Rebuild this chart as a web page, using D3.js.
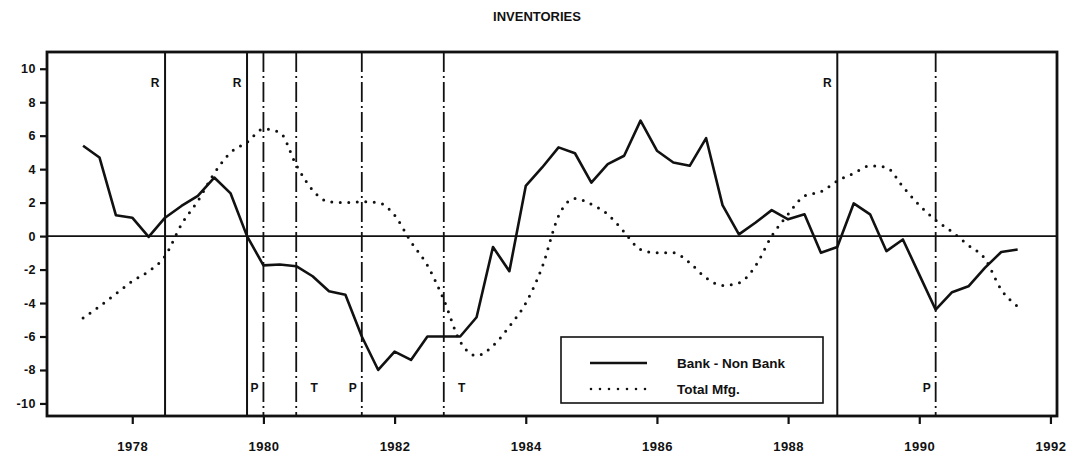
<!DOCTYPE html>
<html>
<head>
<meta charset="utf-8">
<script src="https://cdn.jsdelivr.net/npm/d3@7"></script>
<style>
  body { margin: 0; background: #fff; }
  svg text { font-family: "Liberation Sans", Arial, Helvetica, sans-serif; font-weight: bold; fill: #111; }
</style>
</head>
<body>
<svg id="chart"></svg>
<script>
// quarterly observations, 1977Q2 .. 1991Q3
const quarters = [
  1977.25, 1977.5, 1977.75,
  1978.0, 1978.25, 1978.5, 1978.75,
  1979.0, 1979.25, 1979.5, 1979.75,
  1980.0, 1980.25, 1980.5, 1980.75,
  1981.0, 1981.25, 1981.5, 1981.75,
  1982.0, 1982.25, 1982.5, 1982.75,
  1983.0, 1983.25, 1983.5, 1983.75,
  1984.0, 1984.25, 1984.5, 1984.75,
  1985.0, 1985.25, 1985.5, 1985.75,
  1986.0, 1986.25, 1986.5, 1986.75,
  1987.0, 1987.25, 1987.5, 1987.75,
  1988.0, 1988.25, 1988.5, 1988.75,
  1989.0, 1989.25, 1989.5, 1989.75,
  1990.0, 1990.25, 1990.5, 1990.75,
  1991.0, 1991.25, 1991.5
];

const bankNonBank = [
  5.4, 4.7, 1.25,
  1.1, -0.05, 1.1, 1.8,
  2.4, 3.5, 2.55, 0.0,
  -1.75, -1.7, -1.8, -2.4,
  -3.3, -3.5, -6.0, -8.0,
  -6.9, -7.4, -6.0, -6.0,
  -6.0, -4.85, -0.65, -2.1,
  3.0, 4.1, 5.3, 4.95,
  3.2, 4.3, 4.8, 6.9,
  5.1, 4.4, 4.2, 5.85,
  1.85, 0.1, 0.8, 1.55,
  1.0, 1.3, -1.0, -0.65,
  1.95, 1.3, -0.9, -0.2,
  -2.3, -4.4, -3.35, -3.0,
  -1.9, -0.95, -0.8
];

const totalMfg = [
  -4.9, -4.2, -3.45,
  -2.7, -2.1, -1.2, 0.7,
  2.1, 3.75, 5.0, 5.6,
  6.4, 6.2, 4.25, 2.75,
  2.05, 2.0, 2.05, 2.0,
  1.25, -0.35, -1.75, -3.8,
  -6.3, -7.15, -6.55, -5.4,
  -4.0, -1.85, 1.2, 2.25,
  1.9, 1.3, 0.25, -0.8,
  -1.0, -1.0, -1.6, -2.5,
  -2.95, -2.8, -1.8, 0.0,
  1.3, 2.4, 2.65, 3.3,
  3.75, 4.2, 4.1, 2.95,
  1.85, 0.95, 0.25, -0.55,
  -1.35, -3.2, -4.2
];

const xTicks = [1978, 1980, 1982, 1984, 1986, 1988, 1990, 1992];
const yTicks = [-10, -8, -6, -4, -2, 0, 2, 4, 6, 8, 10];

// event markers
const rLines = [1978.5, 1979.75, 1988.75];
const peakLines = [1980.0, 1981.5, 1990.25];
const troughLines = [1980.5, 1982.75];

const seriesNames = ["Bank - Non Bank", "Total Mfg."];

class InventoryChart {
  constructor(_config) {
    this.config = {
      parentElement: _config.parentElement,
      containerWidth: 1073,
      containerHeight: 457,
      margin: {top: 52, right: 16, bottom: 41, left: 47}
    };
    this.initVis();
  }

  initVis() {
    let vis = this;
    const c = vis.config;
    c.width = c.containerWidth - c.margin.left - c.margin.right;
    c.height = c.containerHeight - c.margin.top - c.margin.bottom;

    vis.xScale = d3.scaleLinear().domain([1976.7, 1992.1]).range([0, c.width]);
    vis.yScale = d3.scaleLinear().domain([-10.75, 11]).range([c.height, 0]);

    vis.svg = d3.select(c.parentElement)
      .attr('width', c.containerWidth)
      .attr('height', c.containerHeight);

    vis.svg.append('text')
      .attr('x', 537)
      .attr('y', 21)
      .attr('text-anchor', 'middle')
      .style('font-size', '13px')
      .text('INVENTORIES');

    vis.chart = vis.svg.append('g')
      .attr('transform', `translate(${c.margin.left},${c.margin.top})`);

    vis.renderVis();
  }

  renderVis() {
    let vis = this;
    const c = vis.config;
    const x = vis.xScale, y = vis.yScale;

    // axes
    const xAxis = vis.chart.append('g')
      .attr('transform', `translate(0,${c.height})`)
      .call(d3.axisBottom(x).tickValues(xTicks).tickSize(8).tickSizeOuter(0).tickFormat(d => String(d)));
    xAxis.select('.domain').remove();
    xAxis.selectAll('line').attr('stroke', '#111').attr('stroke-width', 2.2);
    xAxis.selectAll('text').attr('y', 35).attr('dy', 0)
      .style('font-size', '13px').style('letter-spacing', '0.5px');

    const yAxis = vis.chart.append('g')
      .call(d3.axisLeft(y).tickValues(yTicks).tickSize(7).tickPadding(4).tickFormat(d => String(d)));
    yAxis.select('.domain').remove();
    yAxis.selectAll('line').attr('stroke', '#111').attr('stroke-width', 2.2);
    yAxis.selectAll('text').style('font-size', '12.5px').style('letter-spacing', '0.5px');

    // zero line
    vis.chart.append('line')
      .attr('x1', 0).attr('x2', c.width)
      .attr('y1', y(0)).attr('y2', y(0))
      .attr('stroke', '#111').attr('stroke-width', 1.6);

    // event lines
    vis.chart.selectAll('.rline')
      .data(rLines).enter().append('line')
      .attr('class', 'rline')
      .attr('x1', d => x(d)).attr('x2', d => x(d))
      .attr('y1', 0).attr('y2', c.height)
      .attr('stroke', '#111').attr('stroke-width', 2);

    vis.chart.selectAll('.rlabel')
      .data(rLines).enter().append('text')
      .attr('class', 'rlabel')
      .attr('x', d => x(d) - 10)
      .attr('y', 35)
      .attr('text-anchor', 'middle')
      .style('font-size', '12px')
      .text('R');

    const dashLines = peakLines.concat(troughLines);
    vis.chart.selectAll('.cycle')
      .data(dashLines).enter().append('line')
      .attr('class', 'cycle')
      .attr('x1', d => x(d)).attr('x2', d => x(d))
      .attr('y1', 0).attr('y2', c.height)
      .attr('stroke', '#111').attr('stroke-width', 1.8)
      .attr('stroke-dasharray', '20,4,2,4');

    vis.chart.selectAll('.plabel')
      .data(peakLines).enter().append('text')
      .attr('class', 'plabel')
      .attr('x', d => x(d) - 9)
      .attr('y', 340)
      .attr('text-anchor', 'middle')
      .style('font-size', '12px')
      .text('P');

    vis.chart.selectAll('.tlabel')
      .data(troughLines).enter().append('text')
      .attr('class', 'tlabel')
      .attr('x', d => x(d) + 18)
      .attr('y', 340)
      .attr('text-anchor', 'middle')
      .style('font-size', '12px')
      .text('T');

    // series
    const solid = d3.line()
      .x((d, i) => x(quarters[i]))
      .y(d => y(d));
    vis.chart.append('path')
      .datum(bankNonBank)
      .attr('fill', 'none')
      .attr('stroke', '#111')
      .attr('stroke-width', 2.6)
      .attr('stroke-linejoin', 'round')
      .attr('d', solid);

    const dotted = d3.line()
      .x((d, i) => x(quarters[i]))
      .y(d => y(d))
      .curve(d3.curveMonotoneX);
    vis.chart.append('path')
      .datum(totalMfg)
      .attr('fill', 'none')
      .attr('stroke', '#111')
      .attr('stroke-width', 3)
      .attr('stroke-linecap', 'round')
      .attr('stroke-dasharray', '0,8.5')
      .attr('d', dotted);

    // legend
    const lg = vis.svg.append('g').attr('transform', 'translate(561,337)');
    lg.append('rect')
      .attr('width', 262).attr('height', 66)
      .attr('fill', '#fff').attr('stroke', '#111').attr('stroke-width', 1.6);
    lg.append('line')
      .attr('x1', 29).attr('x2', 86).attr('y1', 26).attr('y2', 26)
      .attr('stroke', '#111').attr('stroke-width', 2.4);
    lg.append('line')
      .attr('x1', 30).attr('x2', 86).attr('y1', 52).attr('y2', 52)
      .attr('stroke', '#111').attr('stroke-width', 2.6)
      .attr('stroke-linecap', 'round').attr('stroke-dasharray', '0,9');
    lg.selectAll('.lgtext')
      .data(seriesNames).enter().append('text')
      .attr('class', 'lgtext')
      .attr('x', 116)
      .attr('y', (d, i) => 31 + i * 26)
      .style('font-size', '13.5px')
      .text(d => d);

    // frame
    vis.chart.append('rect')
      .attr('width', c.width).attr('height', c.height)
      .attr('fill', 'none').attr('stroke', '#111').attr('stroke-width', 2.8);
  }
}

new InventoryChart({parentElement: '#chart'});
</script>
</body>
</html>
